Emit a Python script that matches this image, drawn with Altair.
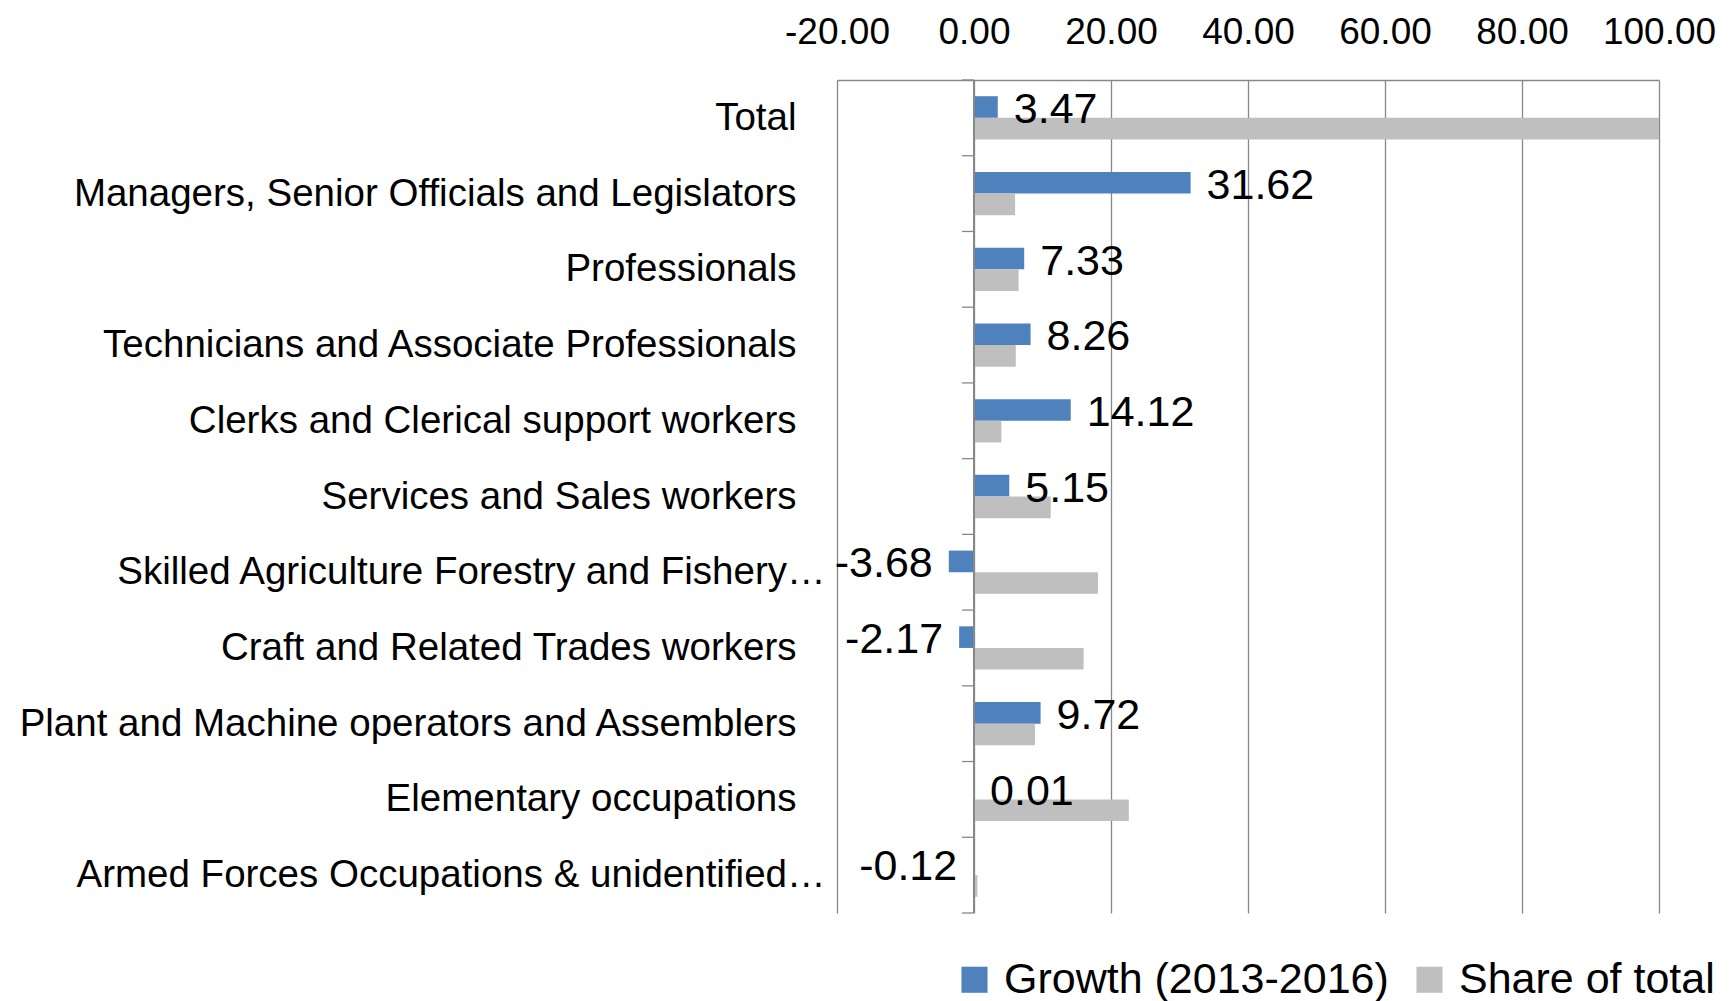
import altair as alt
import pandas as pd

categories = [
    "Total",
    "Managers, Senior Officials and Legislators",
    "Professionals",
    "Technicians and Associate Professionals",
    "Clerks and Clerical support workers",
    "Services and Sales workers",
    "Skilled Agriculture Forestry and Fishery…",
    "Craft and Related Trades workers",
    "Plant and Machine operators and Assemblers",
    "Elementary occupations",
    "Armed Forces Occupations & unidentified…",
]
growth = [3.47, 31.62, 7.33, 8.26, 14.12, 5.15, -3.68, -2.17, 9.72, 0.01, -0.12]
share = [100.0, 6.0, 6.5, 6.1, 4.0, 11.2, 18.1, 16.0, 8.9, 22.6, 0.5]
series_names = ["Growth (2013-2016)", "Share of total"]
x_ticks = [-20, 0, 20, 40, 60, 80, 100]

rows = []
for c, g, s in zip(categories, growth, share):
    rows.append({"category": c, "series": series_names[0], "value": g, "label": f"{g:.2f}"})
    rows.append({"category": c, "series": series_names[1], "value": s, "label": f"{s:.2f}"})
df = pd.DataFrame(rows)

FONT = "Liberation Sans, Arial, sans-serif"
GRID = "#888888"

x_enc = alt.X(
    "value:Q",
    scale=alt.Scale(domain=[-20, 100], nice=False, zero=False),
    axis=alt.Axis(
        orient="top", values=x_ticks, title=None,
        labelExpr="replace(format(datum.value, '.2f'), '\u2212', '-')",
        labelOverlap=False, labelBound=False, labelFlush=False,
        grid=True, gridColor=GRID, gridWidth=1.3, domain=True, domainColor=GRID,
        domainWidth=1.3, ticks=False, labelFontSize=37, labelFont=FONT,
        labelColor="black", labelPadding=29,
    ),
)
y_enc = alt.Y(
    "category:N", sort=categories,
    scale=alt.Scale(paddingInner=0, paddingOuter=0),
    axis=alt.Axis(
        title=None, domain=False, ticks=False, grid=False, labelFontSize=38.5,
        labelFont=FONT, labelColor="black", labelLimit=0,
        labelPadding={"condition": {"test": "indexof(datum.value, '…') >= 0", "value": 12},
                      "value": 41},
    ),
)
yoff = alt.YOffset("series:N", sort=series_names,
                   scale=alt.Scale(paddingInner=0, paddingOuter=0.75))

base = alt.Chart(df)

bars = base.mark_bar().encode(
    x=x_enc,
    y=y_enc,
    yOffset=yoff,
    color=alt.Color(
        "series:N", sort=series_names,
        scale=alt.Scale(domain=series_names, range=["#4F81BD", "#BFBFBF"]),
        legend=alt.Legend(
            title=None, orient="none", direction="horizontal",
            legendX=116, legendY=878, symbolType="square", symbolSize=680,
            symbolStrokeWidth=0, labelFontSize=43, labelFont=FONT,
            labelColor="black", columnPadding=19, labelOffset=8, padding=0,
            labelLimit=0,
        ),
    ),
)

zero_line = base.mark_rule(color=GRID, strokeWidth=1.3).encode(x=alt.datum(0))

cat_ticks = base.transform_filter(alt.datum.series == series_names[0]).mark_rule(
    color=GRID, strokeWidth=1.3, x2Offset=-12
).encode(
    x=alt.datum(0), x2=alt.datum(0),
    y=alt.Y("category:N", sort=categories, bandPosition=0),
)
last_tick = base.transform_filter(
    (alt.datum.series == series_names[0]) & (alt.datum.category == categories[-1])
).mark_rule(color=GRID, strokeWidth=1.3, x2Offset=-12).encode(
    x=alt.datum(0), x2=alt.datum(0),
    y=alt.Y("category:N", sort=categories, bandPosition=1),
)

pos_labels = base.transform_filter(
    (alt.datum.series == series_names[0]) & (alt.datum.value >= 0)
).mark_text(align="left", baseline="middle", dx=16, dy=3, fontSize=43,
            font=FONT, color="black").encode(
    x="value:Q", y=alt.Y("category:N", sort=categories), yOffset=yoff,
    text="label:N",
)
neg_labels = base.transform_filter(
    (alt.datum.series == series_names[0]) & (alt.datum.value < 0)
).mark_text(align="right", baseline="middle", dx=-16, dy=3, fontSize=43,
            font=FONT, color="black").encode(
    x="value:Q", y=alt.Y("category:N", sort=categories), yOffset=yoff,
    text="label:N",
)

chart = alt.layer(bars, zero_line, cat_ticks, last_tick, pos_labels, neg_labels).properties(
    width=822, height=833,
    autosize=alt.AutoSizeParams(type="none"),
    padding={"left": 829, "top": 72, "right": 60, "bottom": 120},
).configure_view(stroke=None)

chart.save("out.html", embed_options={"renderer": "svg", "actions": False})
